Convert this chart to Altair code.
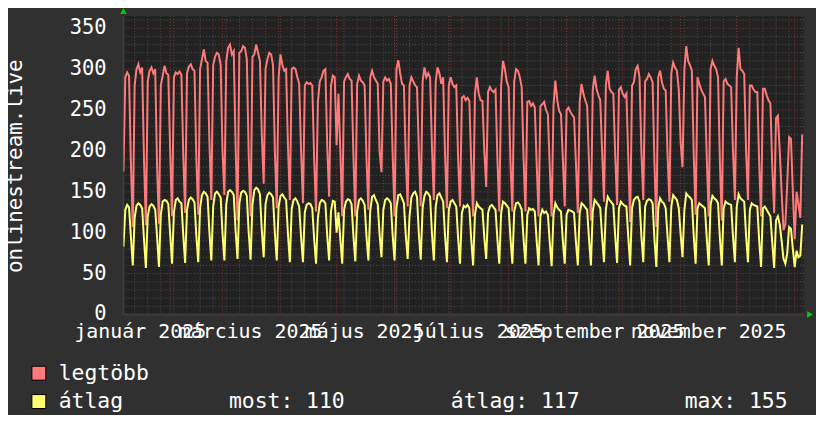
import altair as alt
import pandas as pd

FONT = "DejaVu Sans Mono"
TXT = "#ffffff"
RED = "#ff7b7b"
YEL = "#ffff72"
BACK = "#303030"
CANVAS = "#222222"
MINOR = "#505050"
MAJOR = "#8a3232"
AXIS = "#3c3c3c"
ARROW = "#00cc00"

first_day = "2025-01-07"
x_start = alt.DateTime(year=2025, month=1, date=7)
x_end = alt.DateTime(year=2026, month=1, date=6)

# daily values, one row per week (Tue .. Mon)
legtobb = [
    175, 290, 296, 292, 185, 107, 280,
    300, 306, 296, 302, 190, 109, 285,
    298, 302, 295, 300, 180, 111, 280,
    292, 304, 295, 293, 200, 120, 290,
    296, 294, 297, 293, 195, 124, 295,
    303, 306, 300, 298, 190, 122, 300,
    312, 324, 310, 308, 210, 140, 305,
    315, 320, 318, 305, 200, 146, 310,
    326, 330, 318, 322, 205, 115, 320,
    322, 328, 326, 312, 195, 120, 315,
    318, 330, 320, 310, 220, 160, 300,
    312, 320, 318, 305, 200, 130, 290,
    318, 305, 298, 300, 205, 140, 300,
    302, 300, 290, 282, 200, 136, 280,
    284, 282, 283, 280, 190, 126, 260,
    285, 290, 298, 300, 205, 144, 280,
    292, 290, 207, 270, 200, 120, 285,
    290, 294, 288, 286, 195, 120, 282,
    292, 286, 284, 280, 190, 128, 290,
    298, 290, 286, 282, 200, 174, 285,
    290, 286, 288, 282, 195, 120, 300,
    311, 295, 282, 280, 190, 132, 280,
    290, 285, 280, 278, 200, 132, 285,
    302, 290, 295, 290, 205, 140, 285,
    302, 295, 282, 290, 195, 130, 280,
    290, 282, 278, 280, 190, 132, 265,
    267, 262, 265, 261, 185, 120, 270,
    290, 270, 262, 261, 200, 156, 272,
    278, 274, 272, 275, 190, 126, 280,
    310, 300, 285, 278, 185, 126, 285,
    300, 298, 290, 278, 190, 126, 260,
    261, 255, 258, 253, 185, 120, 255,
    257, 260, 250, 245, 180, 120, 255,
    286, 262, 249, 245, 190, 132, 250,
    253, 248, 244, 241, 185, 124, 260,
    282, 270, 262, 255, 185, 115, 275,
    292, 276, 268, 262, 200, 138, 280,
    298, 276, 272, 270, 195, 134, 275,
    278, 270, 266, 270, 190, 113, 280,
    284, 300, 304, 290, 200, 140, 285,
    288, 294, 290, 284, 185, 107, 290,
    298, 284, 276, 274, 195, 138, 295,
    308, 302, 298, 275, 210, 180, 300,
    328, 310, 305, 298, 195, 122, 290,
    282, 275, 270, 266, 190, 120, 300,
    310, 304, 300, 290, 185, 115, 285,
    288, 282, 280, 278, 200, 140, 290,
    326, 300, 298, 294, 200, 140, 280,
    280, 275, 272, 272, 185, 120, 276,
    276, 268, 262, 258, 180, 124, 240,
    243, 200, 150, 103, 110, 160, 217,
    215, 150, 92, 150, 135, 118, 220,
]

atlag = [
    83, 128, 134, 131, 95, 60, 118,
    133, 136, 134, 130, 92, 57, 120,
    132, 135, 133, 128, 95, 58, 122,
    138, 140, 139, 135, 98, 62, 125,
    140, 142, 138, 136, 97, 63, 128,
    140, 143, 141, 137, 96, 64, 130,
    146, 150, 148, 144, 100, 66, 132,
    148, 150, 147, 143, 99, 66, 135,
    150, 152, 150, 146, 102, 68, 136,
    149, 151, 150, 145, 100, 67, 134,
    152, 155, 153, 147, 103, 70, 135,
    146, 149, 147, 143, 99, 66, 132,
    145, 147, 143, 140, 98, 64, 130,
    140, 142, 138, 132, 95, 64, 125,
    134, 136, 135, 130, 92, 62, 118,
    136, 140, 139, 136, 96, 66, 126,
    139, 138, 100, 125, 92, 62, 128,
    138, 141, 140, 135, 96, 65, 126,
    140, 142, 139, 134, 95, 66, 127,
    144, 146, 140, 135, 98, 70, 128,
    140, 142, 140, 136, 96, 66, 130,
    146, 147, 142, 136, 97, 68, 120,
    143, 148, 150, 144, 98, 67, 130,
    145, 150, 148, 144, 99, 66, 132,
    146, 148, 143, 138, 96, 64, 128,
    138, 140, 136, 132, 93, 62, 124,
    133, 131, 134, 130, 92, 60, 122,
    136, 132, 130, 128, 94, 68, 124,
    132, 134, 131, 128, 92, 62, 124,
    138, 136, 133, 130, 93, 62, 126,
    136, 137, 134, 128, 92, 62, 122,
    130, 128, 129, 126, 90, 60, 120,
    128, 124, 126, 122, 88, 59, 122,
    136, 131, 128, 126, 90, 62, 122,
    128, 127, 126, 124, 89, 60, 124,
    136, 134, 131, 128, 92, 60, 126,
    140, 137, 134, 130, 95, 64, 128,
    144, 140, 137, 134, 96, 63, 130,
    138, 135, 133, 132, 94, 60, 130,
    140, 143, 144, 138, 96, 64, 132,
    139, 141, 140, 136, 92, 58, 130,
    142, 138, 136, 130, 95, 64, 132,
    146, 143, 140, 130, 98, 70, 128,
    148, 145, 143, 140, 96, 62, 130,
    136, 134, 132, 130, 92, 60, 134,
    145, 142, 140, 136, 93, 60, 130,
    138, 136, 135, 134, 95, 64, 132,
    147, 142, 140, 138, 96, 64, 128,
    136, 134, 133, 132, 90, 58, 130,
    132, 128, 124, 120, 88, 57, 115,
    120, 110, 90, 68, 62, 75, 107,
    105, 80, 58, 78, 70, 72, 110,
]

y_major = [0, 50, 100, 150, 200, 250, 300, 350]
y_minor = [10, 20, 30, 40, 60, 70, 80, 90, 110, 120, 130, 140, 160, 170, 180,
           190, 210, 220, 230, 240, 260, 270, 280, 290, 310, 320, 330, 340, 360]
month_lines = ["2025-02-01", "2025-03-01", "2025-04-01", "2025-05-01", "2025-06-01",
               "2025-07-01", "2025-08-01", "2025-09-01", "2025-10-01", "2025-11-01",
               "2025-12-01", "2026-01-01"]
week_lines = ["2025-01-13", "2025-01-20", "2025-01-27", "2025-02-03", "2025-02-10",
              "2025-02-17", "2025-02-24", "2025-03-03", "2025-03-10", "2025-03-17",
              "2025-03-24", "2025-03-31", "2025-04-07", "2025-04-14", "2025-04-21",
              "2025-04-28", "2025-05-05", "2025-05-12", "2025-05-19", "2025-05-26",
              "2025-06-02", "2025-06-09", "2025-06-16", "2025-06-23", "2025-06-30",
              "2025-07-07", "2025-07-14", "2025-07-21", "2025-07-28", "2025-08-04",
              "2025-08-11", "2025-08-18", "2025-08-25", "2025-09-01", "2025-09-08",
              "2025-09-15", "2025-09-22", "2025-09-29", "2025-10-06", "2025-10-13",
              "2025-10-20", "2025-10-27", "2025-11-03", "2025-11-10", "2025-11-17",
              "2025-11-24", "2025-12-01", "2025-12-08", "2025-12-15", "2025-12-22",
              "2025-12-29", "2026-01-05"]
x_label_dates = ["2025-01-16", "2025-03-16", "2025-05-16", "2025-07-16",
                 "2025-09-16", "2025-11-16"]
x_labels = ["január 2025", "március 2025", "május 2025", "július 2025",
            "szeptember 2025", "november 2025"]
y_title = "onlinestream.live"
legend_names = ["legtöbb", "átlag"]
stat_texts = ["most: 110", "átlag: 117", "max: 155"]

days = pd.date_range(first_day, periods=len(legtobb), freq="D")
series = pd.DataFrame({"nap": days, "legtobb": legtobb, "atlag": atlag})

xs = alt.Scale(domain=[x_start, x_end])
ys = alt.Scale(domain=[0, 365], nice=False, zero=False)


def hrules(vals, color):
    return alt.Chart(pd.DataFrame({"v": vals})).mark_rule(
        color=color, strokeDash=[1, 2], strokeWidth=1
    ).encode(y=alt.Y("v:Q", scale=ys, axis=None))


def vrules(dates, color):
    return alt.Chart(pd.DataFrame({"d": pd.to_datetime(dates)})).mark_rule(
        color=color, strokeDash=[1, 2], strokeWidth=1
    ).encode(x=alt.X("d:T", scale=xs, axis=None))


def label(text, x, y, size=20, **kw):
    return alt.Chart(pd.DataFrame({"t": [text]})).mark_text(
        font=FONT, fontSize=size, color=TXT, **kw
    ).encode(text="t:N", x=alt.value(x), y=alt.value(y))


grid = [
    hrules(y_minor, MINOR),
    vrules(week_lines, MINOR),
    hrules(y_major[1:], MAJOR),
    vrules(month_lines, MAJOR),
]

frame = [
    alt.Chart(pd.DataFrame({"a": [0]})).mark_rule(color=AXIS, strokeWidth=2).encode(
        x=alt.value(0), x2=alt.value(684), y=alt.value(300)),
    alt.Chart(pd.DataFrame({"a": [0]})).mark_rule(color=AXIS, strokeWidth=2).encode(
        x=alt.value(0), y=alt.value(0), y2=alt.value(300)),
]

red_line = alt.Chart(series).mark_line(
    color=RED, strokeWidth=2, interpolate="linear", clip=True
).encode(
    x=alt.X("nap:T", scale=xs, axis=None),
    y=alt.Y("legtobb:Q", scale=ys, axis=None),
)
yel_line = alt.Chart(series).mark_line(
    color=YEL, strokeWidth=2, interpolate="linear", clip=True
).encode(
    x=alt.X("nap:T", scale=xs, axis=None),
    y=alt.Y("atlag:Q", scale=ys, axis=None),
)

ylab = alt.Chart(pd.DataFrame({"v": y_major})).mark_text(
    font=FONT, fontSize=20.5, color=TXT, align="right", baseline="middle"
).encode(y=alt.Y("v:Q", scale=ys, axis=None), text="v:Q", x=alt.value(-17))

xlab = alt.Chart(pd.DataFrame({"d": pd.to_datetime(x_label_dates), "t": x_labels})).mark_text(
    font=FONT, fontSize=20, color=TXT, align="center", baseline="alphabetic"
).encode(x=alt.X("d:T", scale=xs, axis=None), text="t:N", y=alt.value(324))

title = label(y_title, -108, 151, size=21, angle=270, align="center", baseline="middle")

sw_red = alt.Chart(pd.DataFrame({"t": [legend_names[0]]})).mark_square(
    size=196, fill=RED, stroke="#000000", strokeWidth=1, opacity=1
).encode(x=alt.value(-85), y=alt.value(359))
sw_yel = alt.Chart(pd.DataFrame({"t": [legend_names[1]]})).mark_square(
    size=196, fill=YEL, stroke="#000000", strokeWidth=1, opacity=1
).encode(x=alt.value(-85), y=alt.value(387.5))

LEG = 21.5
legend = [
    sw_red, sw_yel,
    label(legend_names[0], -65, 366, size=LEG, align="left", baseline="alphabetic"),
    label(legend_names[1], -65, 394, size=LEG, align="left", baseline="alphabetic"),
    label(stat_texts[0], 106, 394, size=LEG, align="left", baseline="alphabetic"),
    label(stat_texts[1], 329, 394, size=LEG, align="left", baseline="alphabetic"),
    label(stat_texts[2], 564, 394, size=LEG, align="left", baseline="alphabetic"),
]

arrows = [
    alt.Chart(pd.DataFrame({"a": [0]})).mark_point(
        shape="triangle-up", filled=True, color=ARROW, size=45, opacity=1
    ).encode(x=alt.value(0), y=alt.value(-5)),
    alt.Chart(pd.DataFrame({"a": [0]})).mark_point(
        shape="triangle-right", filled=True, color=ARROW, size=45, opacity=1
    ).encode(x=alt.value(690), y=alt.value(300)),
]

chart = alt.layer(*grid, *frame, red_line, yel_line, ylab, xlab, title,
                  *legend, *arrows).properties(
    width=684,
    height=300,
    autosize=alt.AutoSizeParams(type="none"),
    padding={"left": 116, "top": 7, "right": 12, "bottom": 100},
    background=BACK,
).configure_view(fill=CANVAS, strokeWidth=0)

chart.save("out.html", embed_options={"renderer": "svg", "actions": False})
